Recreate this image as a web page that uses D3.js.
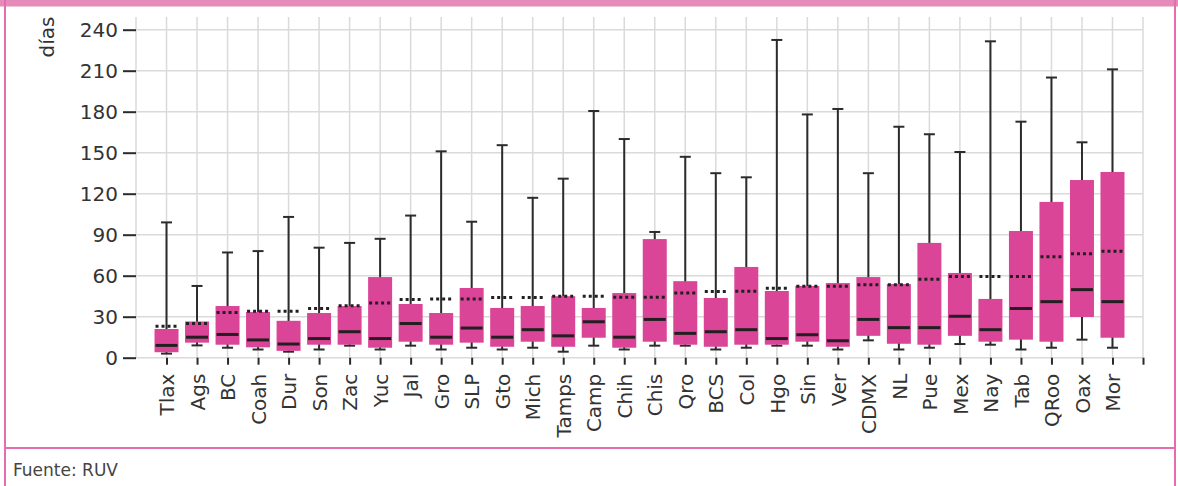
<!DOCTYPE html>
<html>
<head>
<meta charset="utf-8">
<script src="https://cdn.jsdelivr.net/npm/d3@7"></script>
<style>
  body { margin: 0; background: #fff; }
  svg { display: block; }
  .grid line { stroke: #dadada; stroke-width: 1.5; }
  .axis path { display: none; }
  .axis line { stroke: #2a2a2a; stroke-width: 2; }
</style>
</head>
<body>
<div id="chart"></div>
<script>
var svgWidth = 1178;
var svgHeight = 486;

// Data (days)
var states   = ["Tlax","Ags","BC","Coah","Dur","Son","Zac","Yuc","Jal","Gro","SLP","Gto","Mich","Tamps","Camp","Chih","Chis","Qro","BCS","Col","Hgo","Sin","Ver","CDMX","NL","Pue","Mex","Nay","Tab","QRoo","Oax","Mor"];
var lowWhisk = [3, 9, 7.3, 6, 4.4, 6, 8.8, 6, 8.8, 6, 7.3, 6, 7.3, 4.4, 8.8, 6, 8.8, 8.8, 6, 7.3, 8.8, 8.8, 6, 12.7, 6, 7.3, 10, 9.5, 6, 7.3, 13.2, 7.3];
var q1       = [4, 11, 9.5, 7.6, 5, 9.5, 9.5, 7.3, 11.7, 9.5, 11, 8, 11.7, 8, 14.6, 7.3, 11.7, 9.5, 8, 9.5, 9.5, 11.7, 8, 16, 10.2, 9.5, 16, 11.7, 13.2, 11.7, 29.8, 14.6];
var medians  = [9, 15, 17, 13, 10, 14, 19, 14, 25, 15, 21.7, 15, 20.5, 16, 26.3, 15, 28, 17.8, 19, 20.5, 14, 16.8, 12.4, 28, 22, 22, 30.3, 20.5, 36, 41, 49.8, 41];
var q3       = [21, 26.5, 37.8, 33.4, 27, 32.7, 37.8, 59, 39.3, 32.7, 51, 36.4, 37.8, 45, 36.4, 47.3, 86.8, 56, 43.7, 66.4, 48.8, 52.5, 54.6, 59, 53.9, 84, 62, 43, 92.7, 114, 130, 135.9];
var highWhisk= [99, 52.5, 77, 78, 103, 80.5, 84, 87, 104, 151, 99.5, 155.5, 117, 131, 180.5, 160, 92, 147, 135, 132, 232.5, 178, 182, 135, 169, 163.5, 150.5, 231.5, 172.7, 205, 157.6, 211];
var means    = [23, 25, 33, 34, 34, 36, 38, 40, 42.5, 43, 43, 44, 44, 45, 45, 44.2, 44.2, 47.3, 48.5, 48.6, 50.8, 52.2, 52.2, 53.4, 53.4, 57.4, 59.5, 59.5, 59.5, 73.9, 76.1, 77.8];
var yTicks   = [0, 30, 60, 90, 120, 150, 180, 210, 240];

var data = states.map(function(s, i) {
  return { state: s, lo: lowWhisk[i], q1: q1[i], med: medians[i], q3: q3[i], hi: highWhisk[i], mean: means[i] };
});

var svg = d3.select("#chart")
  .append("svg")
  .attr("width", svgWidth)
  .attr("height", svgHeight)
  .attr("font-family", "DejaVu Sans, sans-serif");

// frame
var pink = "#e46db0";
svg.append("rect").attr("x", 0).attr("y", 0).attr("width", svgWidth).attr("height", 6.5).attr("fill", "#e58ab9");
svg.append("line").attr("x1", 5).attr("x2", 5).attr("y1", 0).attr("y2", svgHeight).attr("stroke", pink).attr("stroke-width", 2);
svg.append("line").attr("x1", 1175).attr("x2", 1175).attr("y1", 0).attr("y2", svgHeight).attr("stroke", pink).attr("stroke-width", 2);
svg.append("line").attr("x1", 5).attr("x2", 1175).attr("y1", 448).attr("y2", 448).attr("stroke", pink).attr("stroke-width", 2);

svg.append("text")
  .attr("x", 13).attr("y", 476)
  .attr("fill", "#444")
  .attr("font-size", 17)
  .text("Fuente: RUV");

// scales
var plotTop = 17;
var xScale = d3.scalePoint()
  .domain(["_start"].concat(states, ["_end"]))
  .range([136, 1143]);

var yScale = d3.scaleLinear()
  .domain([0, 240])
  .range([357.7, 29.7]);

// grid
var grid = svg.append("g").attr("class", "grid");
grid.selectAll("line.v")
  .data(xScale.domain())
  .enter().append("line")
  .attr("class", "v")
  .attr("x1", d => xScale(d)).attr("x2", d => xScale(d))
  .attr("y1", plotTop).attr("y2", yScale(0));
grid.selectAll("line.h")
  .data(yTicks)
  .enter().append("line")
  .attr("class", "h")
  .attr("x1", 136).attr("x2", 1143)
  .attr("y1", d => yScale(d)).attr("y2", d => yScale(d));

// axes
var leftAxis = d3.axisLeft(yScale).tickValues(yTicks).tickSize(13).tickPadding(5);
svg.append("g")
  .attr("class", "axis")
  .attr("transform", "translate(136, 0)")
  .call(leftAxis)
  .attr("font-family", "DejaVu Sans, sans-serif")
  .attr("font-size", 20)
  .selectAll("text")
  .attr("fill", "#333");

var bottomAxis = d3.axisBottom(xScale)
  .tickValues(states.concat(["_end"]))
  .tickFormat(d => d === "_end" ? "" : d)
  .tickSize(7)
  .tickPadding(4);
svg.append("g")
  .attr("class", "axis")
  .attr("transform", `translate(0, ${yScale(0)})`)
  .call(bottomAxis)
  .attr("font-family", "DejaVu Sans, sans-serif")
  .attr("font-size", 20)
  .selectAll("text")
  .attr("fill", "#333")
  .attr("transform", "rotate(-90)")
  .attr("text-anchor", "end")
  .attr("x", -16)
  .attr("y", 0)
  .attr("dy", "0.36em");

svg.append("text")
  .attr("transform", "translate(47, 37) rotate(-90)")
  .attr("text-anchor", "middle")
  .attr("dy", "0.36em")
  .attr("fill", "#333")
  .attr("font-size", 20)
  .text("días");

// boxes
var boxW = 24, capW = 11;
var boxes = svg.append("g").selectAll("g")
  .data(data)
  .enter()
  .append("g")
  .attr("transform", d => `translate(${xScale(d.state)}, 0)`);

boxes.append("line")
  .attr("x1", 0).attr("x2", 0)
  .attr("y1", d => yScale(d.lo)).attr("y2", d => yScale(d.hi))
  .attr("stroke", "#2b2b2b").attr("stroke-width", 2);

boxes.append("line")
  .attr("x1", -capW / 2).attr("x2", capW / 2)
  .attr("y1", d => yScale(d.hi)).attr("y2", d => yScale(d.hi))
  .attr("stroke", "#2b2b2b").attr("stroke-width", 2);

boxes.append("line")
  .attr("x1", -capW / 2).attr("x2", capW / 2)
  .attr("y1", d => yScale(d.lo)).attr("y2", d => yScale(d.lo))
  .attr("stroke", "#2b2b2b").attr("stroke-width", 2);

boxes.append("rect")
  .attr("x", -boxW / 2)
  .attr("width", boxW)
  .attr("y", d => yScale(d.q3))
  .attr("height", d => yScale(d.q1) - yScale(d.q3))
  .attr("fill", "#db4598");

boxes.append("line")
  .attr("x1", -boxW / 2 + 1).attr("x2", boxW / 2 - 1)
  .attr("y1", d => yScale(d.med)).attr("y2", d => yScale(d.med))
  .attr("stroke", "#231f20").attr("stroke-width", 3);

boxes.append("line")
  .attr("x1", -boxW / 2 + 1).attr("x2", boxW / 2)
  .attr("y1", d => yScale(d.mean)).attr("y2", d => yScale(d.mean))
  .attr("stroke", "#231f20").attr("stroke-width", 3)
  .attr("stroke-dasharray", "3,3");
</script>
</body>
</html>
